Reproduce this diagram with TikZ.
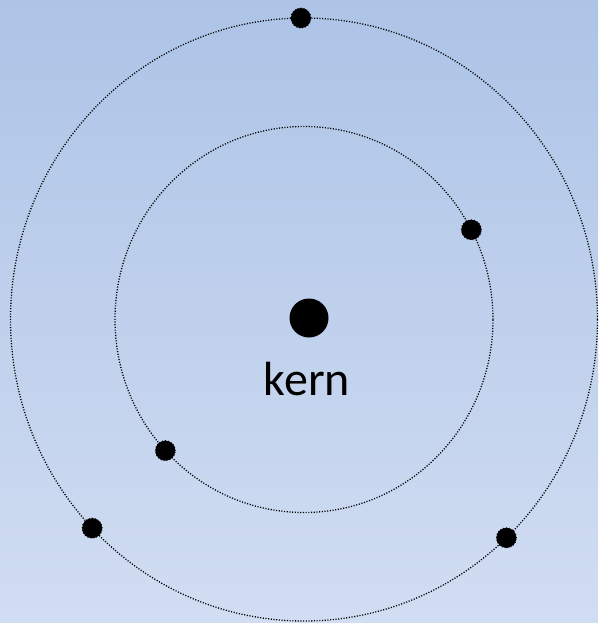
\documentclass[tikz,border=0pt]{standalone}
\usepackage{fontspec}
\setmainfont{Carlito}
\usepackage{tikz}
\usepackage{xcolor}
\usetikzlibrary{positioning,calc}
\definecolor{skytop}{HTML}{ADC4E7}
\definecolor{skybottom}{HTML}{D1DDF2}
\tikzset{
  orbit/.style={draw=black, line width=1.3pt, dash pattern=on 1.1pt off 1.6pt},
  nucleus/.style={circle, fill=black, inner sep=0pt, minimum size=39pt},
  electron/.style={circle, fill=black, draw=black, line width=1pt, dotted, inner sep=0pt, minimum size=20pt},
  atomlabel/.style={font=\fontsize{48}{56}\selectfont, inner sep=0pt}
}

\begin{document}
\begin{tikzpicture}[x=1pt,y=1pt]
\useasboundingbox (0,0) rectangle (598,-623);
\shade[top color=skytop, bottom color=skybottom] (0,0) rectangle (598,-623);

\coordinate (centre) at (304,-319.5);
\draw[orbit] (centre) ellipse [x radius=293.5, y radius=301.5];
\draw[orbit] (centre) ellipse [x radius=189, y radius=193];

\node[nucleus] (kern) at (309,-318) {};
\node[atomlabel, anchor=base] (kernlabel) at (307,-395) {kern};

% electrons on the inner orbit
\node[electron] (e1) at ($(centre)+(27.7:189 and 193)$) {};
\node[electron] (e2) at ($(centre)+(222.8:189 and 193)$) {};
% electrons on the outer orbit
\node[electron] (e3) at ($(centre)+(90.6:293.5 and 301.5)$) {};
\node[electron] (e4) at ($(centre)+(223.8:293.5 and 301.5)$) {};
\node[electron] (e5) at ($(centre)+(-46.4:293.5 and 301.5)$) {};
\end{tikzpicture}
\end{document}
